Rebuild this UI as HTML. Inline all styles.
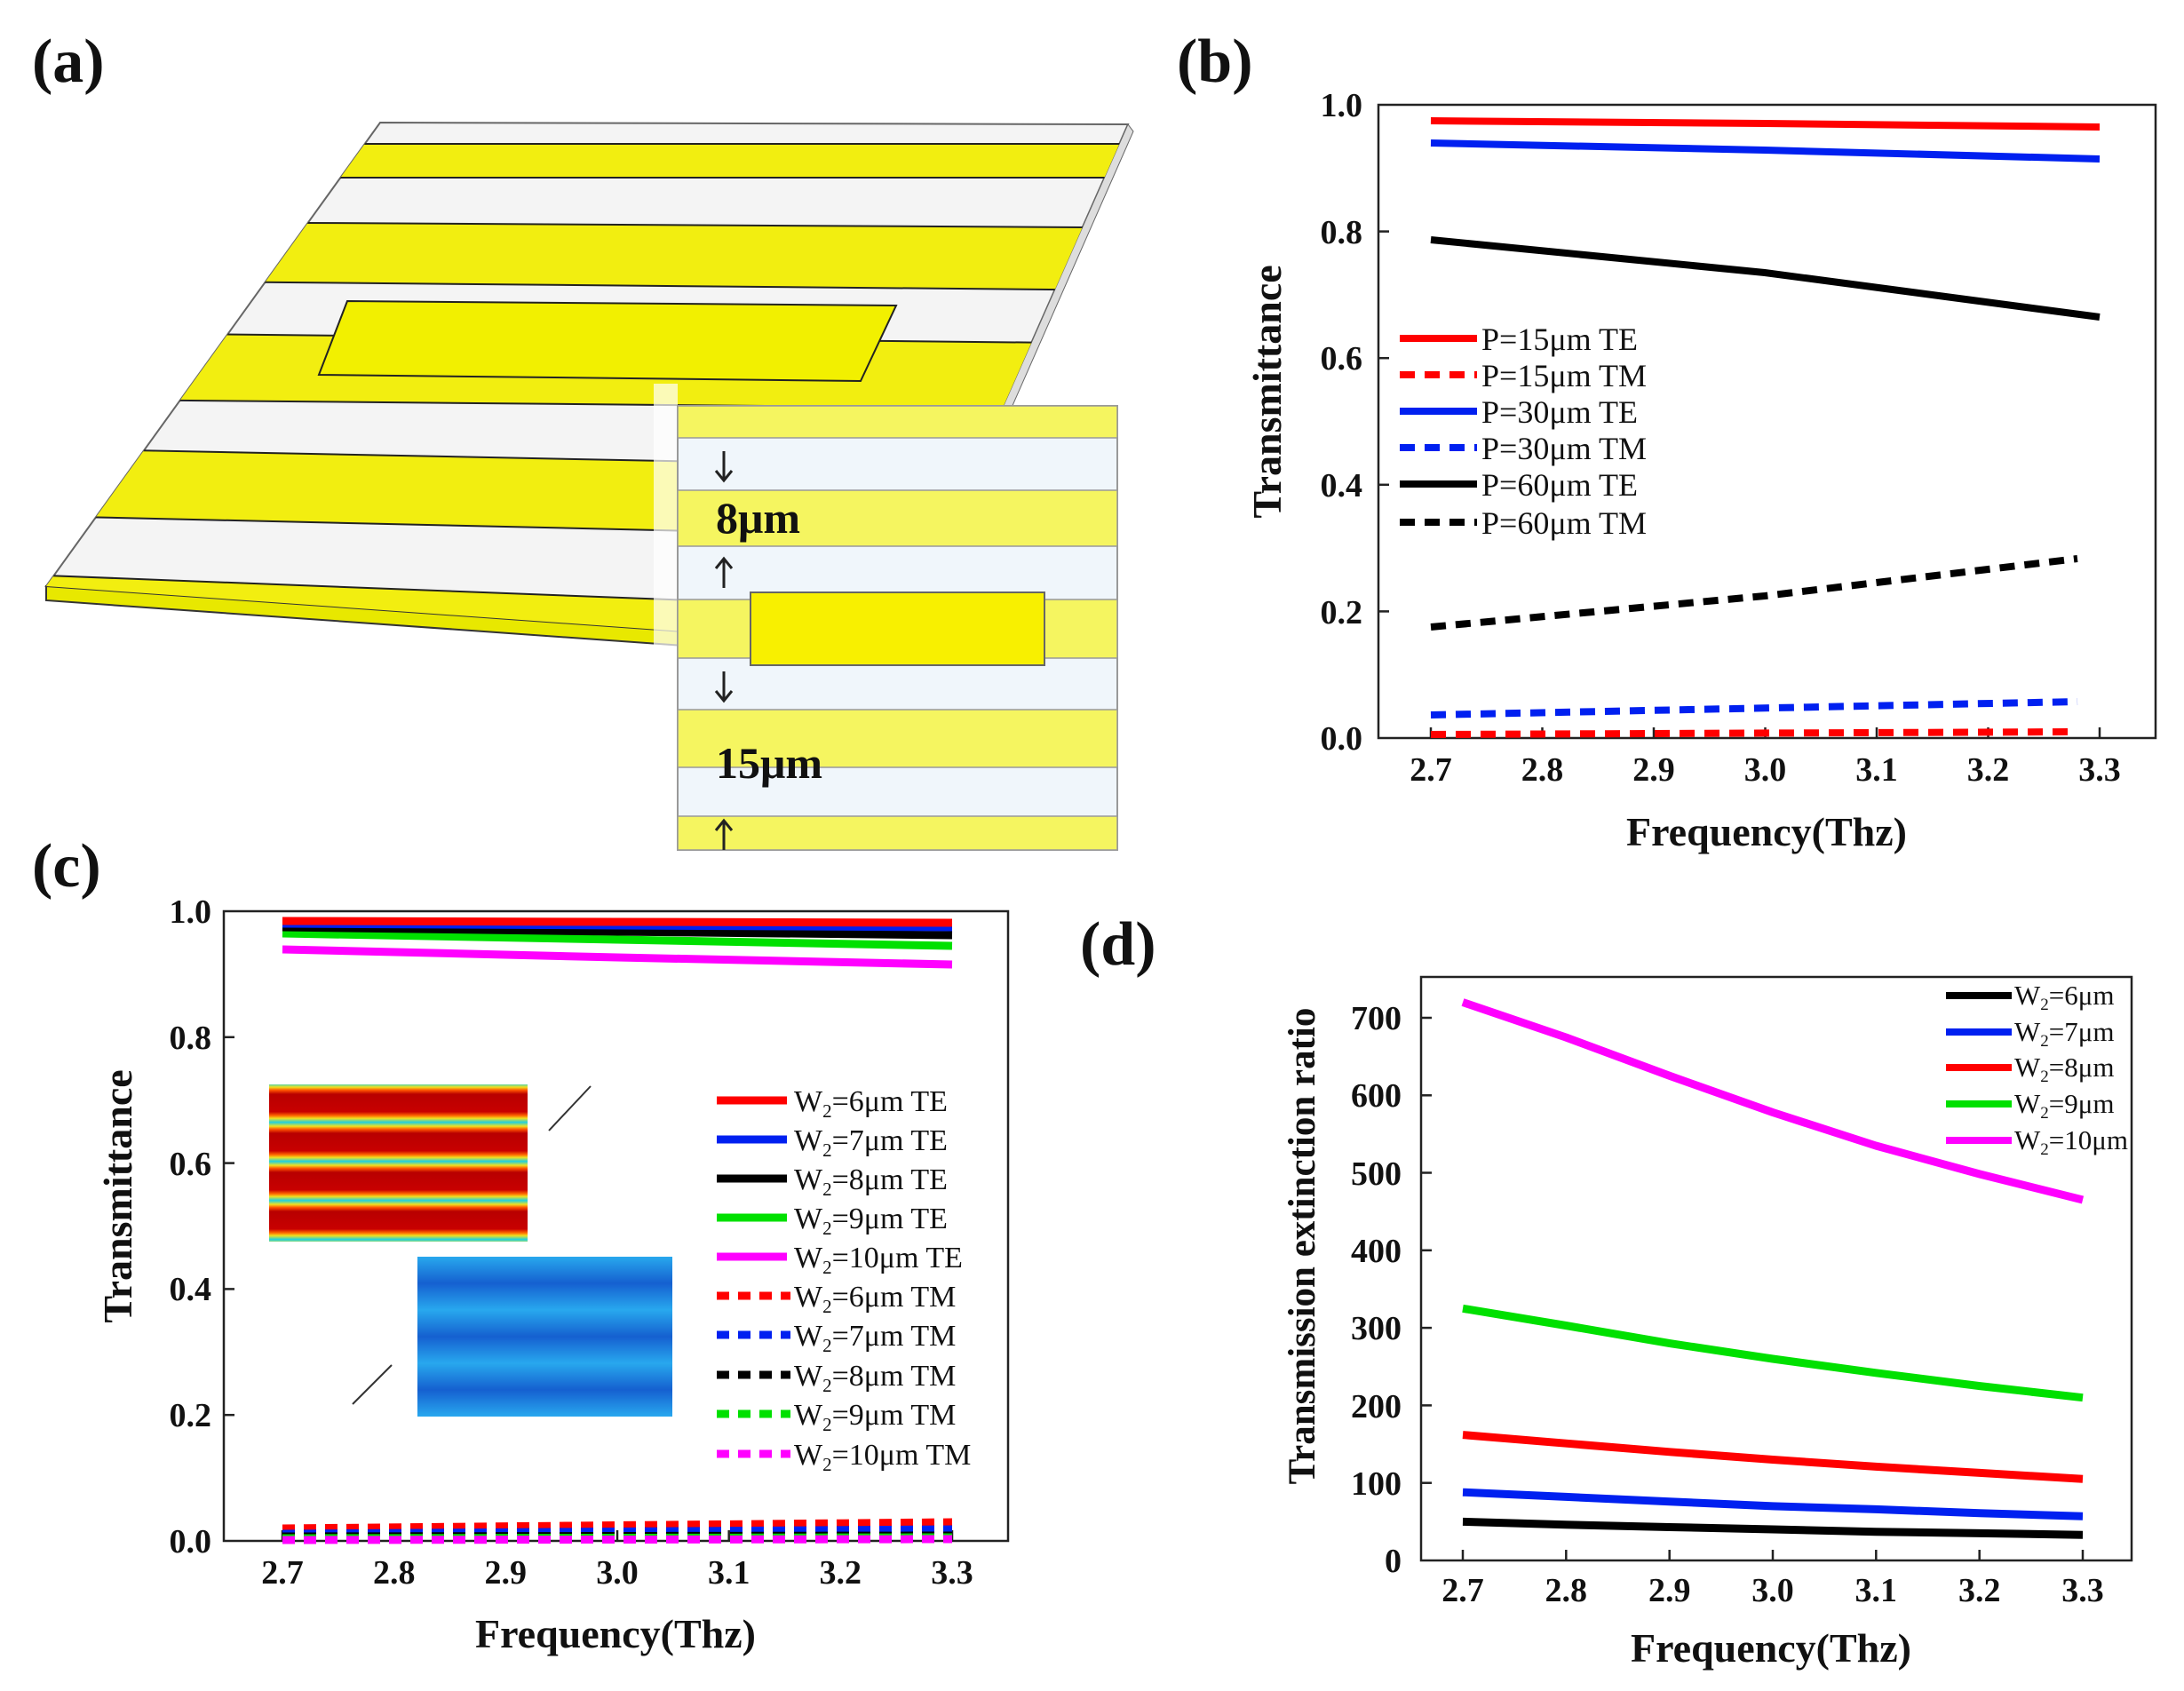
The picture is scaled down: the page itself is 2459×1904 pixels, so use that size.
<!DOCTYPE html>
<html><head><meta charset="utf-8"><style>
html,body{margin:0;padding:0;background:#fff}
svg{display:block}
text{font-family:"Liberation Serif",serif;font-weight:bold;fill:#111}
</style></head><body>
<svg width="2459" height="1904" viewBox="0 0 2459 1904" xmlns="http://www.w3.org/2000/svg">
<defs>
<clipPath id="slab"><polygon points="428,138 1270,140 1010,728 52,660"/></clipPath>
<linearGradient id="redg" x1="0" y1="0" x2="0" y2="44" gradientUnits="userSpaceOnUse" spreadMethod="repeat">
<stop offset="0" stop-color="#b80000"/><stop offset="0.45" stop-color="#c80000"/><stop offset="0.55" stop-color="#ff6a00"/><stop offset="0.62" stop-color="#f0e020"/><stop offset="0.72" stop-color="#20d0e0"/><stop offset="0.82" stop-color="#f0e020"/><stop offset="0.9" stop-color="#ff5000"/><stop offset="1" stop-color="#b80000"/>
</linearGradient>
<linearGradient id="blueg" x1="0" y1="1415" x2="0" y2="1475" gradientUnits="userSpaceOnUse" spreadMethod="repeat">
<stop offset="0" stop-color="#28a8ee"/><stop offset="0.5" stop-color="#1560d0"/><stop offset="1" stop-color="#28a8ee"/>
</linearGradient>
</defs>

<!-- Panel (a) -->
<text x="36" y="92" font-size="70">(a)</text>
<polygon points="428,138 1270,140 1010,728 52,660" fill="#f4f4f4" stroke="#666" stroke-width="2"/>
<polygon points="52,660 1010,728 1010,744 52,676" fill="#e8e800" stroke="#333" stroke-width="2"/>
<polygon points="1270,140 1276,148 1016,738 1010,728" fill="#ddd" stroke="#666" stroke-width="1"/>
<g clip-path="url(#slab)" stroke="#222" stroke-width="2">
<polygon points="0,162 1400,162 1400,200 0,200" fill="#f2ee10"/>
<polygon points="0,249 1400,257 1400,328 0,315" fill="#f2ee10"/>
<polygon points="0,374 1400,388 1400,462 0,449" fill="#f2ee10"/>
<polygon points="0,504 1400,532 1400,612 0,580" fill="#f2ee10"/>
<polygon points="0,646 1400,700 1400,760 0,700" fill="#f2ee10"/>
</g>
<polygon points="391,339 1009,344 969,429 359,422" fill="#f2f000" stroke="#222" stroke-width="2"/>
<!-- inset -->
<rect x="736" y="432" width="27" height="525" fill="#fff" opacity="0.7"/>
<rect x="763" y="457" width="495" height="500" fill="#f0f6fb" stroke="#999" stroke-width="2"/>
<g fill="#f5f560" stroke="#999" stroke-width="1.5">
<rect x="763" y="457" width="495" height="36"/>
<rect x="763" y="552" width="495" height="63"/>
<rect x="763" y="675" width="495" height="66"/>
<rect x="763" y="799" width="495" height="65"/>
<rect x="763" y="919" width="495" height="38"/>
</g>
<rect x="845" y="667" width="331" height="82" fill="#f8f000" stroke="#666" stroke-width="2"/>
<text x="806" y="600" font-size="50">8μm</text>
<text x="806" y="876" font-size="50">15μm</text>
<g stroke="#222" stroke-width="3" fill="none">
<path d="M815,508 V540 M806,530 L815,541 L824,530"/>
<path d="M815,662 V630 M806,640 L815,629 L824,640"/>
<path d="M815,756 V788 M806,778 L815,789 L824,778"/>
<path d="M815,957 V925 M806,935 L815,924 L824,935"/>
</g>

<!-- Panel (b) -->
<text x="1325" y="92" font-size="70">(b)</text>
<rect x="1552" y="118" width="875" height="713" fill="none" stroke="#222" stroke-width="2.5"/>
<g stroke="#222" stroke-width="2.5">
<line x1="1611" y1="831" x2="1611" y2="819"/><line x1="1736.5" y1="831" x2="1736.5" y2="819"/><line x1="1862" y1="831" x2="1862" y2="819"/><line x1="1987.5" y1="831" x2="1987.5" y2="819"/><line x1="2113" y1="831" x2="2113" y2="819"/><line x1="2238.5" y1="831" x2="2238.5" y2="819"/><line x1="2364" y1="831" x2="2364" y2="819"/>
<line x1="1552" y1="688.4" x2="1564" y2="688.4"/><line x1="1552" y1="545.8" x2="1564" y2="545.8"/><line x1="1552" y1="403.2" x2="1564" y2="403.2"/><line x1="1552" y1="260.6" x2="1564" y2="260.6"/>
</g>
<g font-size="38" text-anchor="end">
<text x="1534" y="844">0.0</text><text x="1534" y="702">0.2</text><text x="1534" y="559">0.4</text><text x="1534" y="416">0.6</text><text x="1534" y="274">0.8</text><text x="1534" y="131">1.0</text>
</g>
<g font-size="38" text-anchor="middle">
<text x="1611" y="879">2.7</text><text x="1736.5" y="879">2.8</text><text x="1862" y="879">2.9</text><text x="1987.5" y="879">3.0</text><text x="2113" y="879">3.1</text><text x="2238.5" y="879">3.2</text><text x="2364" y="879">3.3</text>
</g>
<text x="1989" y="952" font-size="46" text-anchor="middle">Frequency(Thz)</text>
<text transform="translate(1442,441) rotate(-90)" font-size="46" text-anchor="middle">Transmittance</text>
<g fill="none" stroke-width="8" stroke-linecap="butt">
<polyline points="1611,136 1987,139 2364,143" stroke="#f00"/>
<polyline points="1611,161 1987,169 2364,179" stroke="#0020f0"/>
<polyline points="1611,270 1987,307 2364,357" stroke="#000"/>
<polyline points="1611,706 1987,671 2339,629" stroke="#000" stroke-dasharray="17,11"/>
<polyline points="1611,805 2339,790" stroke="#0020f0" stroke-dasharray="17,11"/>
<polyline points="1611,827 2339,824" stroke="#f00" stroke-dasharray="17,11"/>
</g>
<g fill="none" stroke-width="8">
<line x1="1576" y1="381" x2="1663" y2="381" stroke="#f00"/>
<line x1="1576" y1="422" x2="1663" y2="422" stroke="#f00" stroke-dasharray="17,11"/>
<line x1="1576" y1="463" x2="1663" y2="463" stroke="#0020f0"/>
<line x1="1576" y1="504" x2="1663" y2="504" stroke="#0020f0" stroke-dasharray="17,11"/>
<line x1="1576" y1="545" x2="1663" y2="545" stroke="#000"/>
<line x1="1576" y1="588" x2="1663" y2="588" stroke="#000" stroke-dasharray="17,11"/>
</g>
<g font-size="36">
<text x="1668" y="394" style="font-weight:normal">P=15μm TE</text>
<text x="1668" y="435" style="font-weight:normal">P=15μm TM</text>
<text x="1668" y="476" style="font-weight:normal">P=30μm TE</text>
<text x="1668" y="517" style="font-weight:normal">P=30μm TM</text>
<text x="1668" y="558" style="font-weight:normal">P=60μm TE</text>
<text x="1668" y="601" style="font-weight:normal">P=60μm TM</text>
</g>

<!-- Panel (c) -->
<text x="36" y="998" font-size="70">(c)</text>
<rect x="252" y="1026" width="883" height="709" fill="none" stroke="#222" stroke-width="2.5"/>
<g stroke="#222" stroke-width="2.5">
<line x1="318" y1="1735" x2="318" y2="1723"/><line x1="443.7" y1="1735" x2="443.7" y2="1723"/><line x1="569.3" y1="1735" x2="569.3" y2="1723"/><line x1="695" y1="1735" x2="695" y2="1723"/><line x1="820.7" y1="1735" x2="820.7" y2="1723"/><line x1="946.3" y1="1735" x2="946.3" y2="1723"/><line x1="1072" y1="1735" x2="1072" y2="1723"/>
<line x1="252" y1="1593.2" x2="264" y2="1593.2"/><line x1="252" y1="1451.4" x2="264" y2="1451.4"/><line x1="252" y1="1309.6" x2="264" y2="1309.6"/><line x1="252" y1="1167.8" x2="264" y2="1167.8"/>
</g>
<g font-size="38" text-anchor="end">
<text x="238" y="1748">0.0</text><text x="238" y="1606">0.2</text><text x="238" y="1464">0.4</text><text x="238" y="1323">0.6</text><text x="238" y="1181">0.8</text><text x="238" y="1039">1.0</text>
</g>
<g font-size="38" text-anchor="middle">
<text x="318" y="1783">2.7</text><text x="443.7" y="1783">2.8</text><text x="569.3" y="1783">2.9</text><text x="695" y="1783">3.0</text><text x="820.7" y="1783">3.1</text><text x="946.3" y="1783">3.2</text><text x="1072" y="1783">3.3</text>
</g>
<text x="693" y="1855" font-size="46" text-anchor="middle">Frequency(Thz)</text>
<text transform="translate(148,1347) rotate(-90)" font-size="46" text-anchor="middle">Transmittance</text>
<rect x="303" y="1221" width="291" height="177" fill="url(#redg)"/>
<rect x="470" y="1415" width="287" height="180" fill="url(#blueg)"/>
<line x1="618" y1="1273" x2="665" y2="1223" stroke="#333" stroke-width="2"/>
<line x1="397" y1="1581" x2="441" y2="1537" stroke="#333" stroke-width="2"/>
<g fill="none" stroke-width="9">
<polyline points="318,1069 695,1078 1072,1086" stroke="#f0f"/>
<polyline points="318,1051 695,1058 1072,1065" stroke="#00e000"/>
<polyline points="318,1044 695,1049 1072,1053" stroke="#000"/>
<polyline points="318,1040 695,1042 1072,1044" stroke="#0020f0"/>
<polyline points="318,1037 695,1038 1072,1039" stroke="#f00"/>
<g stroke-dasharray="14,10">
<polyline points="318,1721 1072,1714" stroke="#f00"/>
<polyline points="318,1727 1072,1722" stroke="#0020f0"/>
<polyline points="318,1730 1072,1729" stroke="#000"/>
<polyline points="318,1732 1072,1731" stroke="#00e000"/>
<polyline points="318,1734 1072,1733" stroke="#f0f"/>
</g>
</g>
<g fill="none" stroke-width="9">
<line x1="807" y1="1239" x2="886" y2="1239" stroke="#f00"/>
<line x1="807" y1="1283" x2="886" y2="1283" stroke="#0020f0"/>
<line x1="807" y1="1327" x2="886" y2="1327" stroke="#000"/>
<line x1="807" y1="1371" x2="886" y2="1371" stroke="#00e000"/>
<line x1="807" y1="1415" x2="886" y2="1415" stroke="#f0f"/>
<g stroke-dasharray="14,10">
<line x1="807" y1="1459" x2="890" y2="1459" stroke="#f00"/>
<line x1="807" y1="1503" x2="890" y2="1503" stroke="#0020f0"/>
<line x1="807" y1="1548" x2="890" y2="1548" stroke="#000"/>
<line x1="807" y1="1592" x2="890" y2="1592" stroke="#00e000"/>
<line x1="807" y1="1637" x2="890" y2="1637" stroke="#f0f"/>
</g>
</g>
<g font-size="34">
<text x="894" y="1251" style="font-weight:normal">W<tspan font-size="21" dy="7">2</tspan><tspan dy="-7">=6μm TE</tspan></text>
<text x="894" y="1295" style="font-weight:normal">W<tspan font-size="21" dy="7">2</tspan><tspan dy="-7">=7μm TE</tspan></text>
<text x="894" y="1339" style="font-weight:normal">W<tspan font-size="21" dy="7">2</tspan><tspan dy="-7">=8μm TE</tspan></text>
<text x="894" y="1383" style="font-weight:normal">W<tspan font-size="21" dy="7">2</tspan><tspan dy="-7">=9μm TE</tspan></text>
<text x="894" y="1427" style="font-weight:normal">W<tspan font-size="21" dy="7">2</tspan><tspan dy="-7">=10μm TE</tspan></text>
<text x="894" y="1471" style="font-weight:normal">W<tspan font-size="21" dy="7">2</tspan><tspan dy="-7">=6μm TM</tspan></text>
<text x="894" y="1515" style="font-weight:normal">W<tspan font-size="21" dy="7">2</tspan><tspan dy="-7">=7μm TM</tspan></text>
<text x="894" y="1560" style="font-weight:normal">W<tspan font-size="21" dy="7">2</tspan><tspan dy="-7">=8μm TM</tspan></text>
<text x="894" y="1604" style="font-weight:normal">W<tspan font-size="21" dy="7">2</tspan><tspan dy="-7">=9μm TM</tspan></text>
<text x="894" y="1649" style="font-weight:normal">W<tspan font-size="21" dy="7">2</tspan><tspan dy="-7">=10μm TM</tspan></text>
</g>

<!-- Panel (d) -->
<text x="1216" y="1086" font-size="70">(d)</text>
<rect x="1600" y="1100" width="800" height="657" fill="none" stroke="#222" stroke-width="2.5"/>
<g stroke="#222" stroke-width="2.5">
<line x1="1647" y1="1757" x2="1647" y2="1745"/><line x1="1763.3" y1="1757" x2="1763.3" y2="1745"/><line x1="1879.7" y1="1757" x2="1879.7" y2="1745"/><line x1="1996" y1="1757" x2="1996" y2="1745"/><line x1="2112.3" y1="1757" x2="2112.3" y2="1745"/><line x1="2228.7" y1="1757" x2="2228.7" y2="1745"/><line x1="2345" y1="1757" x2="2345" y2="1745"/>
<line x1="1600" y1="1669.7" x2="1612" y2="1669.7"/><line x1="1600" y1="1582.4" x2="1612" y2="1582.4"/><line x1="1600" y1="1495.1" x2="1612" y2="1495.1"/><line x1="1600" y1="1407.8" x2="1612" y2="1407.8"/><line x1="1600" y1="1320.5" x2="1612" y2="1320.5"/><line x1="1600" y1="1233.3" x2="1612" y2="1233.3"/><line x1="1600" y1="1146" x2="1612" y2="1146"/>
</g>
<g font-size="38" text-anchor="end">
<text x="1578" y="1770">0</text><text x="1578" y="1683">100</text><text x="1578" y="1596">200</text><text x="1578" y="1508">300</text><text x="1578" y="1421">400</text><text x="1578" y="1334">500</text><text x="1578" y="1246">600</text><text x="1578" y="1159">700</text>
</g>
<g font-size="38" text-anchor="middle">
<text x="1647" y="1803">2.7</text><text x="1763.3" y="1803">2.8</text><text x="1879.7" y="1803">2.9</text><text x="1996" y="1803">3.0</text><text x="2112.3" y="1803">3.1</text><text x="2228.7" y="1803">3.2</text><text x="2345" y="1803">3.3</text>
</g>
<text x="1994" y="1871" font-size="46" text-anchor="middle">Frequency(Thz)</text>
<text transform="translate(1480,1403) rotate(-90)" font-size="43" text-anchor="middle">Transmission extinction ratio</text>
<g fill="none" stroke-width="9" stroke-linejoin="round">
<polyline points="1647,1128.5 1763,1168 1880,1211.4 1996,1252.5 2112,1290 2229,1322 2345,1351" stroke="#f0f"/>
<polyline points="1647,1473.3 1763,1492.5 1880,1512.6 1996,1530 2112,1545.8 2229,1560.6 2345,1573.7" stroke="#00e000"/>
<polyline points="1647,1615.6 1763,1625.2 1880,1634.8 1996,1643.5 2112,1651.4 2229,1658.4 2345,1665.3" stroke="#f00"/>
<polyline points="1647,1680.2 1763,1685.4 1880,1690.7 1996,1695.9 2112,1699.4 2229,1703.8 2345,1707.2" stroke="#0020f0"/>
<polyline points="1647,1713.4 1763,1716.8 1880,1719.5 1996,1722 2112,1724.7 2229,1726.4 2345,1728.2" stroke="#000"/>
</g>
<g stroke-width="8">
<line x1="2191" y1="1121" x2="2265" y2="1121" stroke="#000"/>
<line x1="2191" y1="1162" x2="2265" y2="1162" stroke="#0020f0"/>
<line x1="2191" y1="1202" x2="2265" y2="1202" stroke="#f00"/>
<line x1="2191" y1="1243" x2="2265" y2="1243" stroke="#00e000"/>
<line x1="2191" y1="1284" x2="2265" y2="1284" stroke="#f0f"/>
</g>
<g font-size="31">
<text x="2268" y="1131" style="font-weight:normal">W<tspan font-size="19" dy="6">2</tspan><tspan dy="-6">=6μm</tspan></text>
<text x="2268" y="1172" style="font-weight:normal">W<tspan font-size="19" dy="6">2</tspan><tspan dy="-6">=7μm</tspan></text>
<text x="2268" y="1212" style="font-weight:normal">W<tspan font-size="19" dy="6">2</tspan><tspan dy="-6">=8μm</tspan></text>
<text x="2268" y="1253" style="font-weight:normal">W<tspan font-size="19" dy="6">2</tspan><tspan dy="-6">=9μm</tspan></text>
<text x="2268" y="1294" style="font-weight:normal">W<tspan font-size="19" dy="6">2</tspan><tspan dy="-6">=10μm</tspan></text>
</g>
</svg>
</body></html>
